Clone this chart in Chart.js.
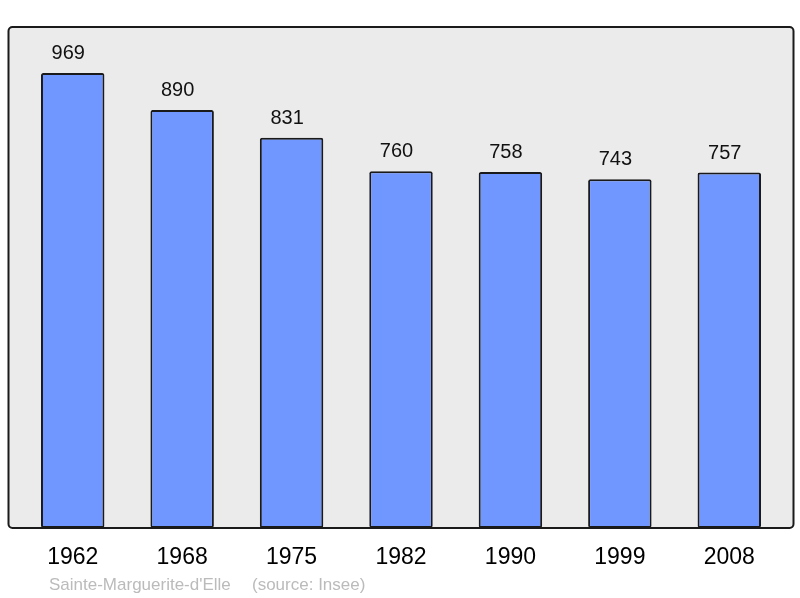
<!DOCTYPE html>
<html>
<head>
<meta charset="utf-8">
<script src="https://cdn.jsdelivr.net/npm/chart.js@4/dist/chart.umd.min.js"></script>
<style>
  html, body { margin: 0; padding: 0; background: #fff; }
  #wrap { width: 800px; height: 598px; }
</style>
</head>
<body>
<div id="wrap"><canvas id="chart" width="800" height="598"></canvas></div>
<script>
// ===== Data =====
const years = ['1962', '1968', '1975', '1982', '1990', '1999', '2008'];
const population = [969, 890, 831, 760, 758, 743, 757];
const commune = "Sainte-Marguerite-d'Elle";
const source = '(source: Insee)';

const FONT = '"Liberation Sans", Arial, sans-serif';

// grey panel behind the bars, outline drawn after the bars
const panelPlugin = {
  id: 'panel',
  beforeDatasetsDraw(chart) {
    const { ctx, chartArea: a } = chart;
    ctx.save();
    ctx.beginPath();
    ctx.roundRect(a.left - 9.5, a.top, a.right - a.left + 19, a.bottom - a.top, 4);
    ctx.fillStyle = '#ebebeb';
    ctx.fill();
    ctx.restore();
  },
  afterDatasetsDraw(chart) {
    const { ctx, chartArea: a } = chart;
    ctx.save();
    ctx.beginPath();
    ctx.roundRect(a.left - 9.5, a.top, a.right - a.left + 19, a.bottom - a.top, 4);
    ctx.lineWidth = 2;
    ctx.strokeStyle = '#1a1a1a';
    ctx.stroke();

    // value labels above each bar (sit a little left of centre in the original)
    const meta = chart.getDatasetMeta(0);
    ctx.font = '20px ' + FONT;
    ctx.fillStyle = '#111';
    ctx.textAlign = 'center';
    ctx.textBaseline = 'alphabetic';
    meta.data.forEach((bar, i) => {
      ctx.fillText(population[i], bar.x - 4.5, bar.y - 14);
    });

    // footer
    ctx.font = '17px ' + FONT;
    ctx.fillStyle = '#bbbbbb';
    ctx.textAlign = 'left';
    ctx.fillText(commune, 49, 590);
    ctx.fillText(source, 252, 590);
    ctx.restore();
  }
};

new Chart(document.getElementById('chart'), {
  type: 'bar',
  data: {
    labels: years,
    datasets: [{
      data: population,
      backgroundColor: '#7097ff',
      borderColor: '#1a1a1a',
      borderWidth: 2,
      borderSkipped: false,
      borderRadius: 2,
      categoryPercentage: 1,
      barPercentage: 0.58
    }]
  },
  options: {
    responsive: false,
    animation: false,
    layout: { padding: { top: 27, left: 18, right: 16, bottom: 0 } },
    plugins: { legend: { display: false }, tooltip: { enabled: false } },
    scales: {
      y: { display: false, min: 0, max: 1067 },
      x: {
        grid: { display: false, drawTicks: false },
        border: { display: false },
        ticks: { color: '#000', font: { family: FONT, size: 23 }, padding: 16 },
        afterFit(scale) { scale.height = 70; }
      }
    }
  },
  plugins: [panelPlugin]
});
</script>
</body>
</html>
